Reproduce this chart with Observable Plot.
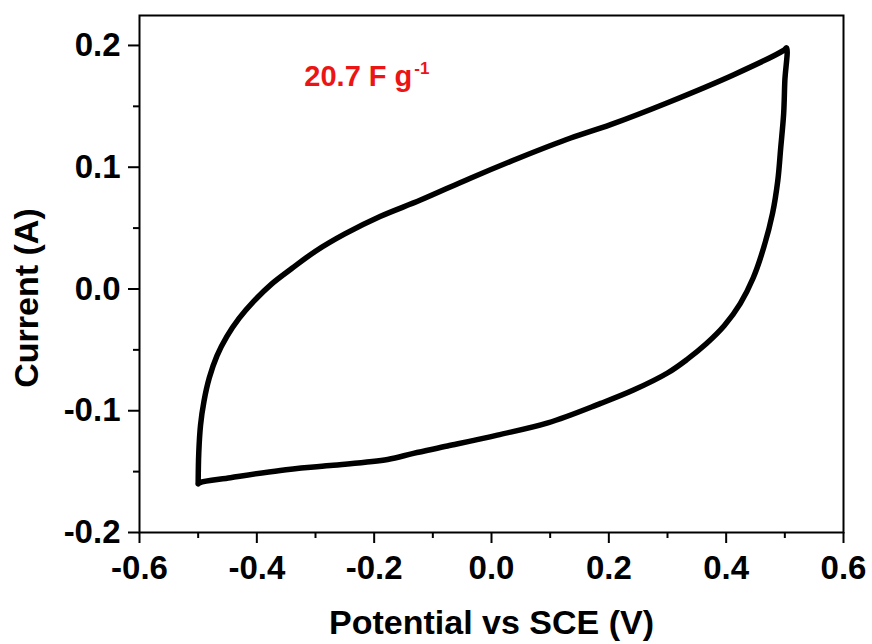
<!DOCTYPE html>
<html><head><meta charset="utf-8">
<script src="https://cdn.jsdelivr.net/npm/d3@7"></script>
<script src="https://cdn.jsdelivr.net/npm/@observablehq/plot@0.6"></script>
<style>body{margin:0;background:#fff} svg{display:block}</style>
</head><body><div id="chart"></div>
<script>
// Cyclic voltammogram: forward scan (-0.5 -> 0.5 V) then reverse scan
const potential = [
  -0.500,-0.499,-0.496,-0.490,-0.481,-0.468,-0.451,-0.430,-0.405,-0.375,-0.340,-0.300,-0.250,-0.190,-0.121,-0.036,0.049,0.135,0.203,0.300,0.413,0.498,0.503,
  0.500,0.498,0.493,0.488,0.479,0.464,0.446,0.424,0.397,0.366,0.333,0.300,0.242,0.186,0.096,0.010,-0.075,-0.133,-0.177,-0.275,-0.360,-0.445,-0.497,-0.500
];
const current = [
  -0.160,-0.135,-0.112,-0.092,-0.073,-0.055,-0.039,-0.024,-0.010,0.004,0.017,0.031,0.0452,0.0595,0.073,0.091,0.108,0.124,0.135,0.153,0.176,0.196,0.198,
  0.171,0.144,0.116,0.089,0.062,0.034,0.009,-0.012,-0.030,-0.045,-0.058,-0.069,-0.083,-0.094,-0.110,-0.120,-0.129,-0.135,-0.140,-0.145,-0.149,-0.155,-0.159,-0.160
];
const xTicks = [-0.6,-0.4,-0.2,0.0,0.2,0.4,0.6];
const xMinorTicks = [-0.5,-0.3,-0.1,0.1,0.3,0.5];
const yTicks = [-0.2,-0.1,0.0,0.1,0.2];
const yMinorTicks = [-0.15,-0.05,0.05,0.15];
const xTitle = ["Potential vs SCE (V)"];
const yTitle = ["Current (A)"];
const annotation = [{x: -0.319, y: 0.1669, text: "20.7 F g", sup: "-1"}];

const data = potential.map((p, i) => ({p, c: current[i]}));
const fmt = d => d.toFixed(1);
const font = "'Liberation Sans', Arial, Helvetica, sans-serif";

const plot = Plot.plot({
  width: 872, height: 644,
  marginLeft: 139, marginRight: 29, marginTop: 15, marginBottom: 112,
  x: {domain: [-0.6, 0.6]},
  y: {domain: [-0.2, 0.2246]},
  style: {fontFamily: font, fontWeight: "bold", background: "#fff", color: "#000", overflow: "visible"},
  marks: [
    Plot.axisX({ticks: xMinorTicks, tickSize: 6, strokeWidth: 2, tickFormat: () => "", label: null}),
    Plot.axisY({ticks: yMinorTicks, tickSize: 6, strokeWidth: 2, tickFormat: () => "", label: null}),
    Plot.axisX({ticks: xTicks, tickSize: 11, tickPadding: 12, strokeWidth: 2, tickFormat: fmt, fontSize: 33, fontWeight: "bold", label: null}),
    Plot.axisY({ticks: yTicks, tickSize: 11, tickPadding: 8, strokeWidth: 2, tickFormat: fmt, fontSize: 33, fontWeight: "bold", label: null}),
    Plot.frame({stroke: "#000", strokeWidth: 2}),
    Plot.line(data, {x: "p", y: "c", stroke: "#000", strokeWidth: 5.5, strokeLinejoin: "round", strokeLinecap: "round", curve: "catmull-rom"}),
    Plot.text(annotation, {x: "x", y: "y", text: "text", textAnchor: "start", lineAnchor: "bottom", fill: "#ec1515", fontSize: 29, fontWeight: "bold"}),
    Plot.text(annotation, {x: "x", y: "y", text: "sup", textAnchor: "start", lineAnchor: "bottom", dx: 110, dy: -11.6, fill: "#ec1515", fontSize: 17, fontWeight: "bold"}),
    Plot.text(xTitle, {text: d => d, frameAnchor: "bottom", textAnchor: "middle", lineAnchor: "bottom", dy: 101, fontSize: 34, fontWeight: "bold", fill: "#000"}),
    Plot.text(yTitle, {text: d => d, frameAnchor: "left", textAnchor: "middle", lineAnchor: "bottom", rotate: -90, dx: -102, dy: 24, fontSize: 34, fontWeight: "bold", fill: "#000"})
  ]
});
document.getElementById("chart").appendChild(plot);
</script>
</body></html>
